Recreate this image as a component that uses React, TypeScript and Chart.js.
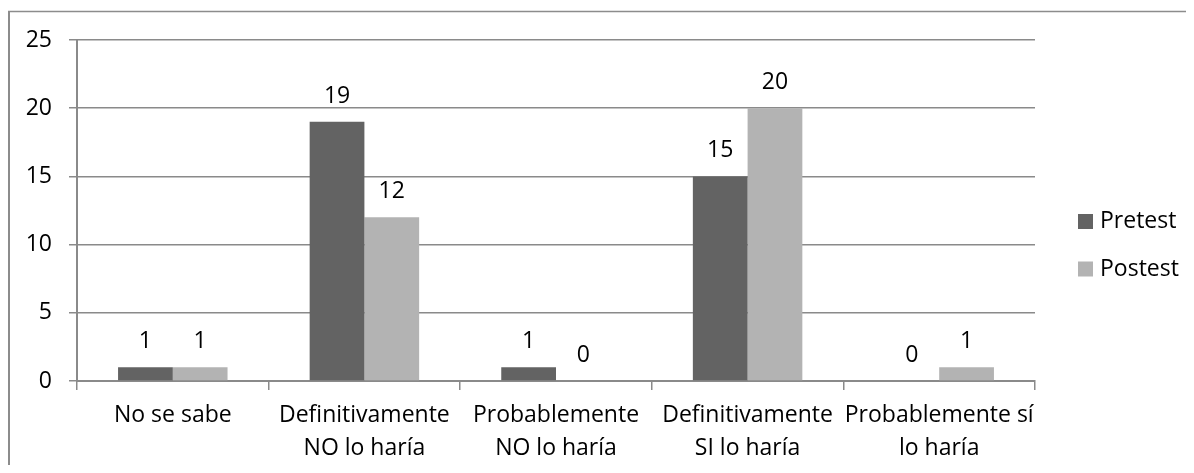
import React, { useEffect, useRef } from "react";
import { Chart, registerables } from "chart.js";

Chart.register(...registerables);

const categories: string[][] = [
  ["No se sabe"],
  ["Definitivamente", "NO lo haría"],
  ["Probablemente", "NO lo haría"],
  ["Definitivamente", "SI lo haría"],
  ["Probablemente sí", "lo haría"],
];
const pretest: number[] = [1, 19, 1, 15, 0];
const postest: number[] = [1, 12, 0, 20, 1];
const seriesNames: string[] = ["Pretest", "Postest"];
const yTicks: number[] = [0, 5, 10, 15, 20, 25];

const FONT_FAMILY = "'Open Sans', Lato, sans-serif";
const FONT_SIZE = 23;
const GRID_COLOR = "#8a8a8a";
const COLORS = ["#636363", "#b3b3b3"];

// Numbers printed above each bar
const valueLabels = {
  id: "valueLabels",
  afterDatasetsDraw(chart: any) {
    const { ctx } = chart;
    ctx.save();
    ctx.font = `${FONT_SIZE}px ${FONT_FAMILY}`;
    ctx.fillStyle = "#000";
    ctx.textAlign = "center";
    ctx.textBaseline = "alphabetic";
    chart.data.datasets.forEach((ds: any, i: number) => {
      const meta = chart.getDatasetMeta(i);
      meta.data.forEach((bar: any, j: number) => {
        ctx.fillText(String(ds.data[j]), bar.x, bar.y - 19);
      });
    });
    ctx.restore();
  },
};

// Legend at the right and the chart frame
const sideLegend = {
  id: "sideLegend",
  afterDraw(chart: any) {
    const { ctx } = chart;
    ctx.save();
    ctx.strokeStyle = "#8c8c8c";
    ctx.lineWidth = 2;
    ctx.beginPath();
    ctx.moveTo(1, 3);
    ctx.lineTo(1, chart.height);
    ctx.stroke();
    ctx.lineWidth = 1.5;
    ctx.beginPath();
    ctx.moveTo(0, 3.5);
    ctx.lineTo(chart.width, 3.5);
    ctx.stroke();

    ctx.font = `${FONT_SIZE}px ${FONT_FAMILY}`;
    ctx.textAlign = "left";
    ctx.textBaseline = "middle";
    const x0 = 1070;
    const y0 = 213.5;
    const step = 47.5;
    chart.data.datasets.forEach((ds: any, i: number) => {
      const cy = y0 + i * step;
      ctx.fillStyle = ds.backgroundColor;
      ctx.fillRect(x0, cy - 7.5, 15, 15);
      ctx.fillStyle = "#000";
      ctx.fillText(ds.label, x0 + 22, cy);
    });
    ctx.restore();
  },
};

export default function App() {
  const canvasRef = useRef<HTMLCanvasElement | null>(null);

  useEffect(() => {
    if (!canvasRef.current) return;
    const chart = new Chart(canvasRef.current, {
      type: "bar",
      data: {
        labels: categories,
        datasets: [
          { label: seriesNames[0], data: pretest, backgroundColor: COLORS[0] },
          { label: seriesNames[1], data: postest, backgroundColor: COLORS[1] },
        ],
      },
      options: {
        animation: false,
        responsive: false,
        layout: { padding: { top: 32, left: 0, right: 159, bottom: 0 } },
        datasets: {
          bar: { categoryPercentage: 2 / 3.5, barPercentage: 1 },
        },
        plugins: {
          legend: { display: false },
          tooltip: { enabled: false },
        },
        scales: {
          x: {
            offset: true,
            afterFit: (s: any) => {
              s.height = 84;
            },
            grid: {
              offset: true,
              drawOnChartArea: false,
              drawTicks: true,
              tickLength: 9,
              color: GRID_COLOR,
              lineWidth: 1.5,
            },
            border: { display: true, color: GRID_COLOR, width: 2 },
            ticks: {
              autoSkip: false,
              maxRotation: 0,
              minRotation: 0,
              padding: 9,
              color: "#000",
              font: { family: FONT_FAMILY, size: FONT_SIZE, lineHeight: "33px" },
            },
          },
          y: {
            min: 0,
            max: 25,
            afterFit: (s: any) => {
              s.width = 69;
            },
            afterBuildTicks: (s: any) => {
              s.ticks = yTicks.map((v) => ({ value: v }));
            },
            grid: {
              color: GRID_COLOR,
              lineWidth: 1.5,
              drawTicks: true,
              tickLength: 8,
            },
            border: { display: true, color: GRID_COLOR, width: 2 },
            ticks: {
              padding: 17,
              color: "#000",
              font: { family: FONT_FAMILY, size: FONT_SIZE },
            },
          },
        },
      },
      plugins: [valueLabels, sideLegend],
    });
    return () => chart.destroy();
  }, []);

  return (
    <div style={{ width: 1186, height: 457 }}>
      <canvas ref={canvasRef} width={1186} height={457} />
    </div>
  );
}
